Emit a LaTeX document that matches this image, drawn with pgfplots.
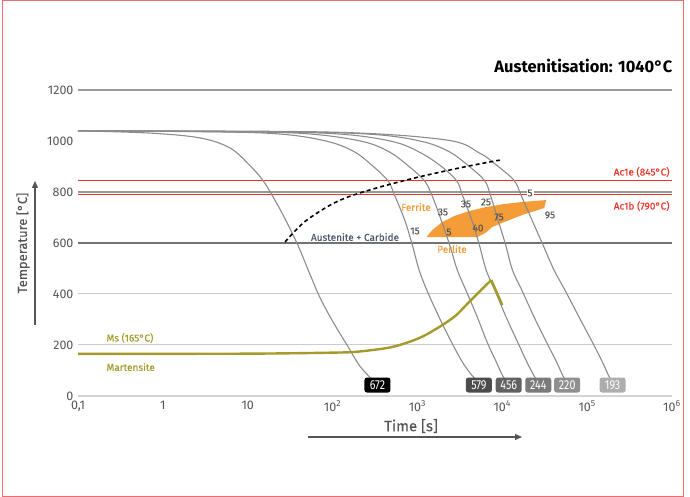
\documentclass[border=0pt]{standalone}
\usepackage{pgfplots}
\pgfplotsset{compat=1.18}
\usepackage{fontspec}
\setmainfont{Fira Sans}
\newfontfamily\condfont[FakeStretch=0.82]{Fira Sans}
\newfontfamily\medfont[FakeBold=0.3]{Fira Sans}
\usetikzlibrary{arrows.meta}

\definecolor{curve}{HTML}{8C8C8C}
\definecolor{acred}{HTML}{E8352B}
\definecolor{ms}{HTML}{A39B2B}
\definecolor{perl}{HTML}{F39C38}
\definecolor{lbl}{HTML}{555555}
\definecolor{slate}{HTML}{4D5B6B}
\definecolor{frame}{HTML}{EE6B70}

\pgfplotsset{
  cool/.style={curve, line width=1.1pt, smooth, tension=0.55},
  hbox/.style={draw=none, mark=none, nodes near coords, point meta=explicit symbolic,
    nodes near coords style={anchor=center, fill=#1, text=white, rounded corners=2.5pt,
      minimum width=26pt, minimum height=15pt, inner sep=0pt,
      font=\condfont\fontsize{13}{14}\selectfont}},
}

\begin{document}
\begin{tikzpicture}
\useasboundingbox (0,0) rectangle (690pt,497pt);
\draw[frame, line width=1pt] (2.5pt,0.5pt) rectangle (683.5pt,496.5pt);

\begin{axis}[
  at={(78pt,101pt)}, anchor=south west,
  scale only axis, width=594pt, height=306pt,
  xmin=-1, xmax=6, ymin=0, ymax=1200,
  axis line style={draw=none}, major tick length=0pt,
  clip=false,
  ytick={0,200,...,1200},
  xtick={-1,0,...,6},
  xticklabels={{0,1},1,10,10\textsuperscript{2},10\textsuperscript{3},10\textsuperscript{4},10\textsuperscript{5},10\textsuperscript{6}},
  tick label style={font=\fontsize{12.5}{14}\selectfont, text=lbl},
  xticklabel style={yshift=-1.5pt},
  yticklabel style={xshift=-1pt},
  /pgf/number format/assume math mode=true,
  /pgf/number format/1000 sep={},
]
% grid lines
\draw[draw=black!40, line width=1.2pt] (axis cs:-1,1200) -- (axis cs:6,1200);
\draw[draw=black!40, line width=1.4pt] (axis cs:-1,800) -- (axis cs:6,800);
\draw[draw=black!55, line width=1.2pt] (axis cs:-1,600) -- (axis cs:6,600);
\draw[draw=black!20, line width=1pt] (axis cs:-1,400) -- (axis cs:6,400);
\draw[draw=black!20, line width=1pt] (axis cs:-1,200) -- (axis cs:6,200);
\draw[draw=black!17, line width=1.5pt] (axis cs:-1,0) -- (axis cs:6,0);

% Ac lines
\addplot[acred, line width=1.6pt] coordinates {(-1,845) (6,845)};
\addplot[acred, line width=1.4pt] coordinates {(-1,790) (6,790)};

% perlite region
\addplot[fill=perl, draw=none] coordinates {
 (3.106,623.5) (3.706,623.5) (3.8,639.2) (3.882,662.7) (4.024,682.4) (4.235,709.8)
 (4.494,737.3) (4.518,768.6) (4.235,760.8) (4.024,752.9) (3.812,741.2) (3.612,725.5)
 (3.435,705.9) (3.294,682.4) (3.176,651)} -- cycle;

% cooling curves
\addplot[cool] coordinates {(-1,1040) (-0.15,1031) (0.44,1012) (0.79,973) (1.02,906) (1.18,845) (1.3,780) (1.44,695) (1.6,585) (1.73,480) (1.86,380) (2.01,288) (2.17,200) (2.32,118) (2.46,67)};
\addplot[cool] coordinates {(-1,1040) (0.79,1035) (1.49,1024) (1.97,996) (2.26,957) (2.46,906) (2.65,845) (2.73,788) (2.85,690) (2.94,592) (3.02,494) (3.12,408) (3.26,306) (3.40,212) (3.53,133) (3.64,82) (3.71,59)};
\addplot[cool] coordinates {(-1,1040) (1.14,1035) (1.85,1024) (2.38,996) (2.67,957) (2.88,906) (3.08,845) (3.17,788) (3.28,690) (3.38,592) (3.47,494) (3.58,408) (3.71,306) (3.82,212) (3.93,133) (4.0,82) (4.05,59)};
\addplot[cool] coordinates {(-1,1040) (1.38,1035) (2.2,1024) (2.73,996) (3.02,957) (3.26,906) (3.46,845) (3.53,788) (3.64,690) (3.73,592) (3.81,494) (3.92,408) (4.05,306) (4.18,212) (4.29,133) (4.37,82) (4.41,59)};
\addplot[cool] coordinates {(-1,1040) (1.61,1035) (2.55,1024) (3.08,996) (3.38,957) (3.59,906) (3.79,845) (3.86,788) (3.95,690) (4.04,592) (4.12,494) (4.24,408) (4.38,306) (4.52,212) (4.64,133) (4.71,82) (4.75,59)};
\addplot[cool] coordinates {(-1,1040) (1.97,1035) (3.34,1004) (3.73,953) (3.93,906) (4.14,845) (4.22,788) (4.35,690) (4.48,592) (4.61,494) (4.75,408) (4.91,306) (5.06,212) (5.18,133) (5.25,82) (5.29,59)};

% carbide boundary
\addplot[black, line width=1.6pt, dash pattern=on 4pt off 3pt, smooth, tension=0.6] coordinates {(1.44,604) (1.58,655) (1.73,698) (2.02,757) (2.32,796) (2.87,847) (3.49,894) (3.97,925)};

% Ms line
\addplot[ms, line width=2.4pt, smooth, tension=0.5] coordinates {(-1,165) (1.0,166) (2.0,170) (2.3,174) (2.7,192) (3.02,227) (3.26,271) (3.45,315) (3.61,369) (3.87,455)};
\addplot[ms, line width=2.4pt] coordinates {(3.87,455) (4.0,357)};

% hardness
\addplot[hbox=black] coordinates {(2.529,43)[672]};
\addplot[hbox={black!70}] coordinates {(3.724,43)[579]};
\addplot[hbox={black!62}] coordinates {(4.076,43)[456]};
\addplot[hbox={black!52}] coordinates {(4.424,43)[244]};
\addplot[hbox={black!44}] coordinates {(4.765,43)[220]};
\addplot[hbox={black!32}] coordinates {(5.3,43)[193]};
\end{axis}

\begin{scope}[x=1pt, y=-1pt, yshift=497pt]
\node[anchor=east, font=\fontsize{16.5}{19}\selectfont\bfseries] at (676,66) {Austenitisation: 1040°C};
\node[rotate=90, font=\medfont\fontsize{13}{15}\selectfont, text=lbl] at (23,243) {Temperature [°C]};
\draw[-{Triangle[length=7pt,width=6pt]}, lbl, line width=1.3pt] (35,325) -- (35,181);
\node[font=\medfont\fontsize{15}{17}\selectfont, text=lbl] at (411,426) {Time [s]};
\draw[-{Triangle[length=7pt,width=6pt]}, lbl, line width=1.3pt] (308,437) -- (522,437);

\begin{scope}[every node/.style={font=\medfont\fontsize{10}{12}\selectfont}]
\node[anchor=east, text=acred] at (673,172) {Ac1e (845°C)};
\node[anchor=east, text=acred] at (673,206) {Ac1b (790°C)};
\node[text=perl] at (416,207) {Ferrite};
\node[text=perl] at (452,249) {Perlite};
\node[text=slate] at (355,237) {Austenite + Carbide};
\node[anchor=west, text=ms] at (103,338) {Ms (165°C)};
\node[anchor=west, text=ms] at (103,367) {Martensite};
\node[text=lbl] at (415,231) {15};
\node[text=lbl] at (443,212) {35};
\node[text=lbl] at (466,204) {35};
\node[text=lbl] at (486,202) {25};
\node[text=lbl, fill=white, inner sep=1pt] at (530,193) {5};
\node[text=lbl] at (550,215) {95};
\node[text=lbl] at (449,232) {5};
\node[text=lbl] at (478,228) {40};
\node[text=lbl] at (499,217) {75};
\end{scope}
\end{scope}
\end{tikzpicture}
\end{document}
